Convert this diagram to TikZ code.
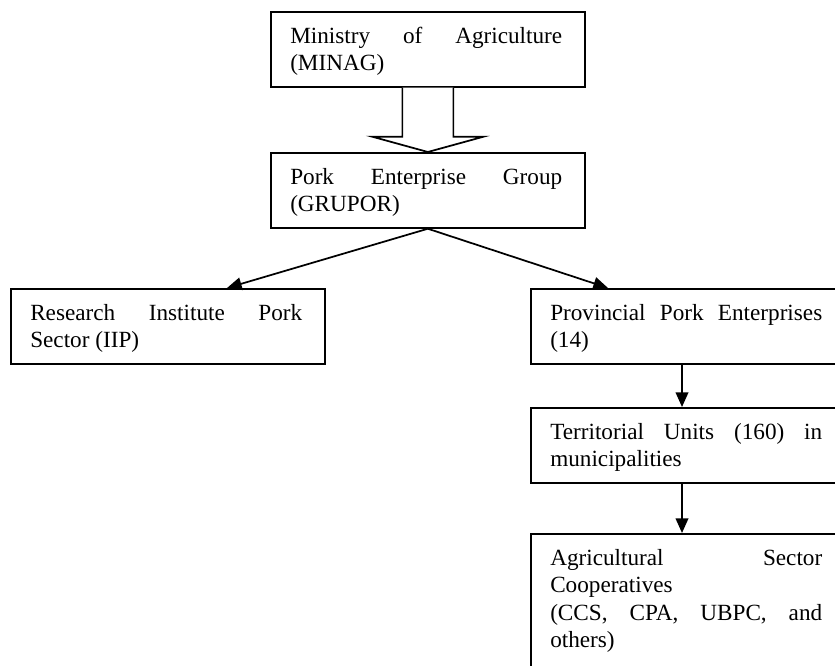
\documentclass[tikz,border=0pt]{standalone}
\usepackage{fontspec}
\setmainfont{Liberation Serif}
\usetikzlibrary{arrows.meta,calc}
\hyphenpenalty=10000
\exhyphenpenalty=10000
\tolerance=9999
\begin{document}
\begin{tikzpicture}[x=0.75pt,y=-0.75pt,
  box/.style={draw,line width=1.3pt,anchor=north west,minimum width=235.5pt,minimum height=56.25pt,inner sep=0pt},
  txt/.style={anchor=north west,inner sep=0pt,text width=204pt,align=justify,
    font=\fontsize{17.4}{20.6}\selectfont},
  arr/.style={line width=1.3pt,-{Triangle[length=11pt,width=9.5pt]}},
  hollow/.style={draw,line width=1.3pt,fill=white,line join=miter}
]
\path[use as bounding box] (0,0) rectangle (835,666);
\clip (0,0) rectangle (835,666);
% boxes
\node[box] (b1) at (270,11) {};
\node[box] (b2) at (270,152) {};
\node[box] (b3) at (10,288) {};
\node[box] (b4) at (530,288) {};
\node[box] (b5) at (530,407) {};
\node[box,minimum height=112.5pt] (b6) at (530,533) {};
% texts
\node[txt] (t1) at ($(b1.north west)+(20,12.8)$) {\strut Ministry of Agriculture (MINAG)};
\node[txt] (t2) at ($(b2.north west)+(20,12.8)$) {\strut Pork Enterprise Group (GRUPOR)};
\node[txt] (t3) at ($(b3.north west)+(20,12.8)$) {\strut Research Institute Pork Sector (IIP)};
\node[txt] (t4) at ($(b4.north west)+(20,12.8)$) {\strut Provincial Pork Enterprises (14)};
\node[txt] (t5) at ($(b5.north west)+(20,12.8)$) {\strut Territorial Units (160) in municipalities};
\node[txt] (t6) at ($(b6.north west)+(20,12.8)$) {\strut Agricultural Sector Cooperatives\par\strut (CCS, CPA, UBPC, and others)};
% hollow block arrow
\draw[hollow] ($(b1.south)+(-25.5,0)$) -- ++(0,49) -- ++(-30,0)
  -- (b2.north) -- ($(b1.south)+(55.5,49)$) -- ++(-30,0) -- ($(b1.south)+(25.5,0)$);
% connectors
\coordinate (c3) at ($(b3.north west)+(217,0)$);
\coordinate (c4) at ($(b4.north west)+(78,0)$);
\draw[arr] (b2.south) -- (c3);
\draw[arr] (b2.south) -- (c4);
\draw[arr] ($(b4.south west)+(152,0)$) -- ($(b5.north west)+(152,0)$);
\draw[arr] ($(b5.south west)+(152,0)$) -- ($(b6.north west)+(152,0)$);
\end{tikzpicture}
\end{document}
